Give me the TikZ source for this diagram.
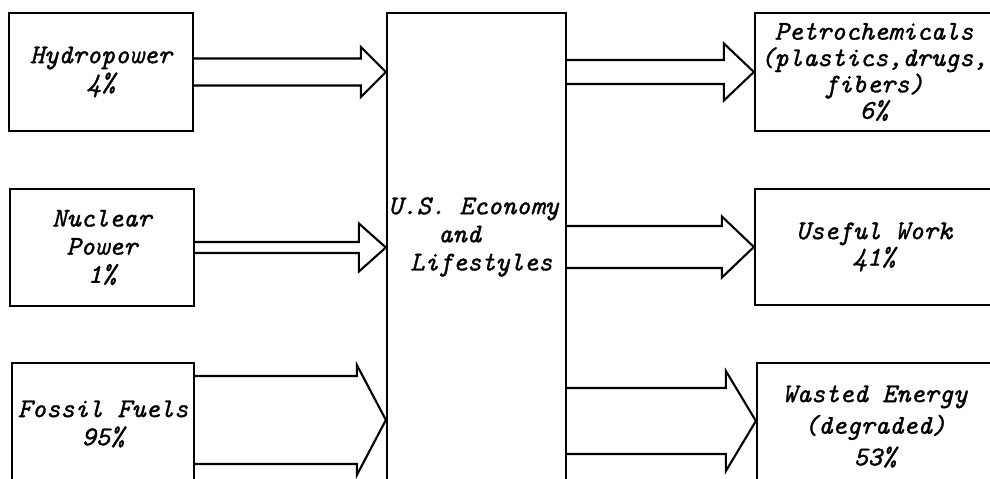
\documentclass[tikz,border=0pt]{standalone}
\usepackage{fontspec}
\setmonofont{Latin Modern Mono}[FakeBold=1.2]
\usetikzlibrary{
  calc
}
\tikzset{
  font=\ttfamily\itshape\fontsize{15.4}{16}\selectfont,
  box/.style={
    draw=black,
    line width=1.3pt,
    align=center,
    inner sep=2pt
  },
  caption/.style={align=left, inner sep=0pt},
  flow/.style={draw=black, line width=1.2pt, line join=miter}
}
% block arrow: from, to, level, shaft half width, head half width, head length
\newcommand{\blockarrow}[6]{%
  \coordinate (ba-t) at (#1.east |- #3);
  \coordinate (ba-h) at (#2.west |- #3);
  \draw[flow]
    ($(ba-t)+(0,#4)$) -- ($(ba-h)+(-#6,#4)$) -- ($(ba-h)+(-#6,#5)$) -- (ba-h)
    -- ($(ba-h)+(-#6,-#5)$) -- ($(ba-h)+(-#6,-#4)$) -- ($(ba-t)+(0,-#4)$);
}

\begin{document}
\begin{tikzpicture}[x=0.02cm,y=-0.02cm]

\useasboundingbox (0,0) rectangle (990,479);
\clip (0,0) rectangle (990,479);

% --------------------------------------------------------------------------
% Sources
% --------------------------------------------------------------------------
\node[box, minimum width=3.68cm, minimum height=2.36cm] (hydro) at (101,72) {
  Hydropower\\
  4\%
};

\node[box, minimum width=3.68cm, minimum height=2.34cm] (nuclear) at (102,247.5) {
  Nuclear\\
  Power\\
  1\%
};

\node[box, minimum width=3.64cm, minimum height=2.44cm] (fossil) at (103,424) {
  Fossil Fuels\\
  95\%
};

% --------------------------------------------------------------------------
% Economy
% --------------------------------------------------------------------------
\node[box, minimum width=3.58cm, minimum height=9.64cm] (econ) at (476.5,254) {};

\node[caption, anchor=west] (econtext) at (388,237) {
  U.S. Economy\\
  \hspace*{1cm}and\\
  \hspace*{0.44cm}Lifestyles
};

% --------------------------------------------------------------------------
% Uses
% --------------------------------------------------------------------------
\node[box, minimum width=4.76cm, minimum height=2.36cm] (petro) at (874,72) {
  Petrochemicals\\[-1pt]
  (plastics,drugs,\\[-1pt]
  fibers)\\[-1pt]
  6\%
};

\node[box, minimum width=4.76cm, minimum height=2.32cm] (useful) at (874,247) {
  Useful Work\\[-1pt]
  41\%
};

\node[box, minimum width=4.72cm, minimum height=2.54cm] (wasted) at (875,426.5) {
  Wasted Energy\\[2pt]
  (degraded)\\[2pt]
  53\%
};

% --------------------------------------------------------------------------
% Flows
% --------------------------------------------------------------------------
\coordinate (lowin) at (0,420);
\coordinate (lowout) at (0,421);

\blockarrow{hydro}{econ}{hydro}{13.5}{25}{25}
\blockarrow{nuclear}{econ}{nuclear}{5.5}{24}{27}
\blockarrow{fossil}{econ}{lowin}{44}{55}{29}

\blockarrow{econ}{petro}{petro}{12}{28.5}{30}
\blockarrow{econ}{useful}{useful}{21}{30.5}{32}
\blockarrow{econ}{wasted}{lowout}{33}{50}{30}

\end{tikzpicture}
\end{document}
